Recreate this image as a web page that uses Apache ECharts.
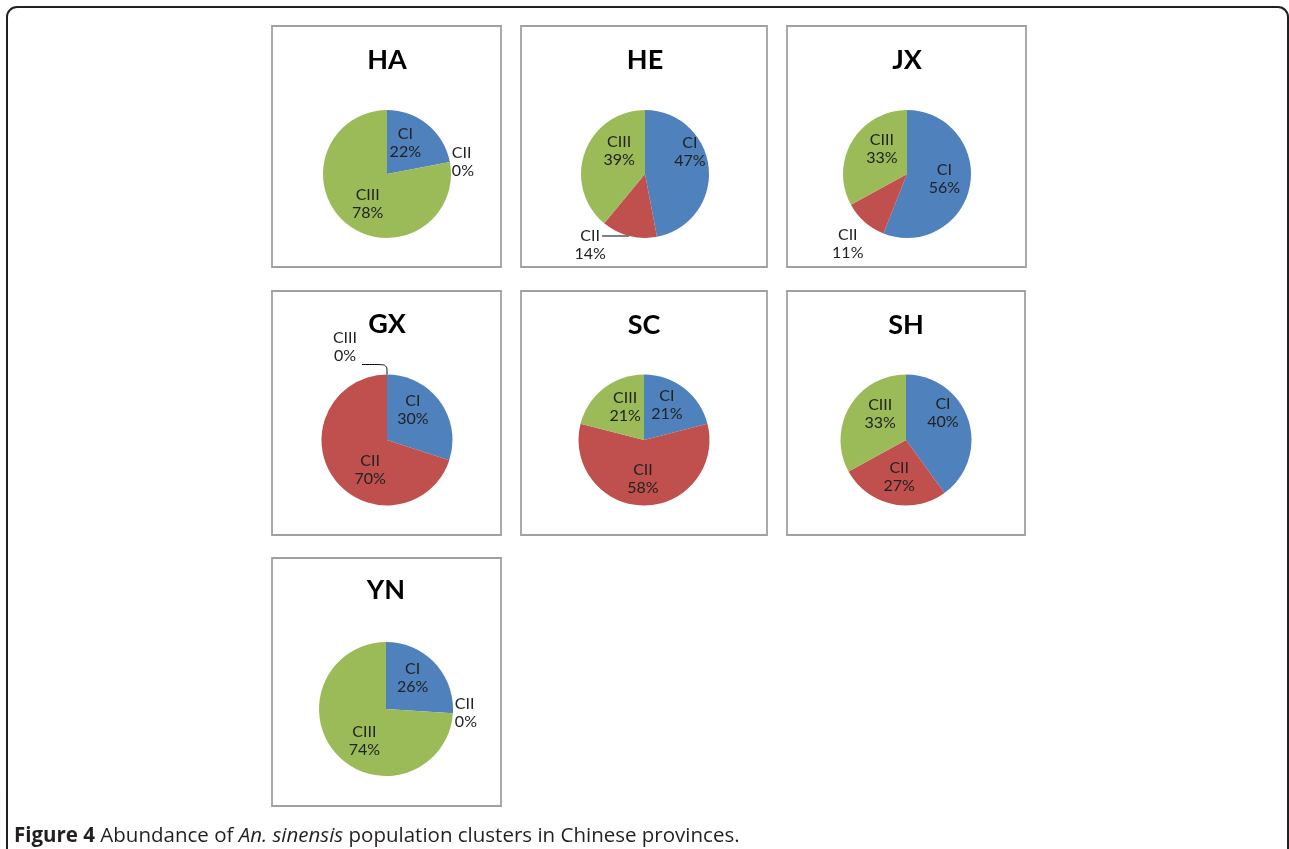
<!DOCTYPE html>
<html><head><meta charset="utf-8">
<script src="https://cdn.jsdelivr.net/npm/echarts@6/dist/echarts.min.js"></script>
<style>html,body{margin:0;padding:0;background:#fff}#c{width:1289px;height:849px}</style>
</head><body><div id="c"></div>
<script>
// ---- data ----
const provinces = ['HA', 'HE', 'JX', 'GX', 'SC', 'SH', 'YN'];
const clusters = ['CI', 'CII', 'CIII'];
const HA = [22, 0, 78];
const HE = [47, 14, 39];
const JX = [56, 11, 33];
const GX = [30, 70, 0];
const SC = [21, 58, 21];
const SH = [40, 27, 33];
const YN = [26, 0, 74];
const values = { HA, HE, JX, GX, SC, SH, YN };
const captionLead = 'Figure 4';
const captionText = 'Abundance of ';
const captionItalic = 'An. sinensis';
const captionTail = ' population clusters in Chinese provinces.';

// ---- style / layout ----
const colors = ['#4F81BD', '#C0504D', '#9BBB59'];
const panels = {
  HA: { box: [272, 26, 229, 241], center: [387, 174], r: 64, titleY: 60 },
  HE: { box: [521, 26, 246, 241], center: [645, 174], r: 64, titleY: 60 },
  JX: { box: [787, 26, 239, 241], center: [907, 174], r: 64, titleY: 60 },
  GX: { box: [272, 291, 229, 244], center: [387, 440], r: 65.5, titleY: 324 },
  SC: { box: [521, 291, 246, 244], center: [644, 440], r: 65.5, titleY: 325 },
  SH: { box: [787, 291, 238, 244], center: [906, 440], r: 65.5, titleY: 325 },
  YN: { box: [272, 558, 229, 248], center: [386, 709], r: 67, titleY: 590 }
};
// fine nudges of inside labels (Excel "best fit" placement)
const labelNudge = {
  HA: [[-4, -4], null, [3, 3]],
  HE: [[10, -19], null, [7, -11]],
  JX: [[3, -2], null, [5, -7]],
  GX: [[-3, -9], [12, 9], null],
  SC: [[1, -7], [-1, 3], [3, -5]],
  SH: [[3, -16], [1, 2], [5, -8]],
  YN: [[0, -6], null, [5, 7]]
};
const LABEL_FONT = 'Lato';
const labelBase = { fontFamily: LABEL_FONT, fontSize: 16, lineHeight: 18, color: '#222' };
const rich = { t: Object.assign({ width: 32, align: 'center' }, labelBase) };
const richFmt = '{t|{b}}\n{t|{c}%}';
// outside label settings for small / zero slices
const outside = {
  HA: { 1: { label: { position: 'outside', distanceToLabelLine: 2 }, labelLine: { show: false, length: 0, length2: 0 } } },
  YN: { 1: { label: { position: 'outside', distanceToLabelLine: 2 }, labelLine: { show: false, length: 0, length2: 0 } } },
  HE: { 1: { label: { position: 'outside', formatter: richFmt, rich, distanceToLabelLine: -4, padding: [18, 0, 0, 0] },
             labelLine: { show: true, length: 0, length2: 27, lineStyle: { color: '#000', width: 1 } } } },
  JX: { 1: { label: { position: 'outside', formatter: richFmt, rich, distanceToLabelLine: -11, padding: [17, 0, 0, 0] },
             labelLine: { show: false, length: 18, length2: 0 } } },
  GX: { 2: { label: { position: 'outside', formatter: richFmt, rich: { t: Object.assign({}, rich.t, { width: 28 }) }, distanceToLabelLine: 3, padding: [0, 0, 36, 0] },
             labelLine: { show: true, length: 10, length2: 25, smooth: 0.3, lineStyle: { color: '#000', width: 1 } } } }
};

const series = provinces.map((p) => {
  const cfg = panels[p];
  return {
    type: 'pie', name: p, center: cfg.center, radius: cfg.r,
    startAngle: 90, clockwise: true, avoidLabelOverlap: false,
    animation: false, silent: true,
    itemStyle: { borderWidth: 0 },
    label: Object.assign({ show: true, position: 'inside', formatter: '{b}\n{c}%' }, labelBase),
    labelLine: { show: false },
    labelLayout: (params) => {
      const n = labelNudge[p][params.dataIndex];
      const isOut = outside[p] && outside[p][params.dataIndex];
      if (!n || isOut) return {};
      const r = params.labelRect;
      return { x: r.x + r.width / 2 + n[0], y: r.y + r.height / 2 + n[1], align: 'center', verticalAlign: 'middle' };
    },
    data: clusters.map((c, i) => {
      const item = { name: c, value: values[p][i], itemStyle: { color: colors[i] } };
      const o = outside[p] && outside[p][i];
      if (o) {
        item.label = Object.assign({}, labelBase, o.label);
        item.labelLine = o.labelLine;
      }
      return item;
    })
  };
});

const graphic = [];
// outer frame
graphic.push({ type: 'rect', shape: { x: 7, y: 7, width: 1281, height: 900, r: 10 },
  style: { fill: 'none', stroke: '#231f20', lineWidth: 2 }, silent: true });
provinces.forEach(p => {
  const b = panels[p].box;
  graphic.push({ type: 'rect', shape: { x: b[0], y: b[1], width: b[2], height: b[3] },
    style: { fill: 'none', stroke: '#a0a0a0', lineWidth: 1.8 }, silent: true });
  graphic.push({ type: 'text', x: panels[p].center[0], y: panels[p].titleY,
    style: { text: p, align: 'center', verticalAlign: 'middle', fontFamily: 'Lato', fontWeight: 'bold', fontSize: 27, fill: '#000' }, silent: true });
});
graphic.push({ type: 'text', x: 14, y: 836, silent: true,
  style: {
    text: '{b|' + captionLead + '} ' + captionText + '{i|' + captionItalic + '}' + captionTail,
    verticalAlign: 'middle', fontFamily: 'Open Sans', fontSize: 20.5, fill: '#231f20',
    rich: {
      b: { fontFamily: 'Open Sans', fontSize: 20.5, fontWeight: 'bold', fill: '#231f20' },
      i: { fontFamily: 'Open Sans', fontSize: 20.5, fontStyle: 'italic', fill: '#231f20' }
    }
  } });

const chart = echarts.init(document.getElementById('c'));
chart.setOption({ backgroundColor: '#fff', animation: false, series, graphic });
</script></body></html>
